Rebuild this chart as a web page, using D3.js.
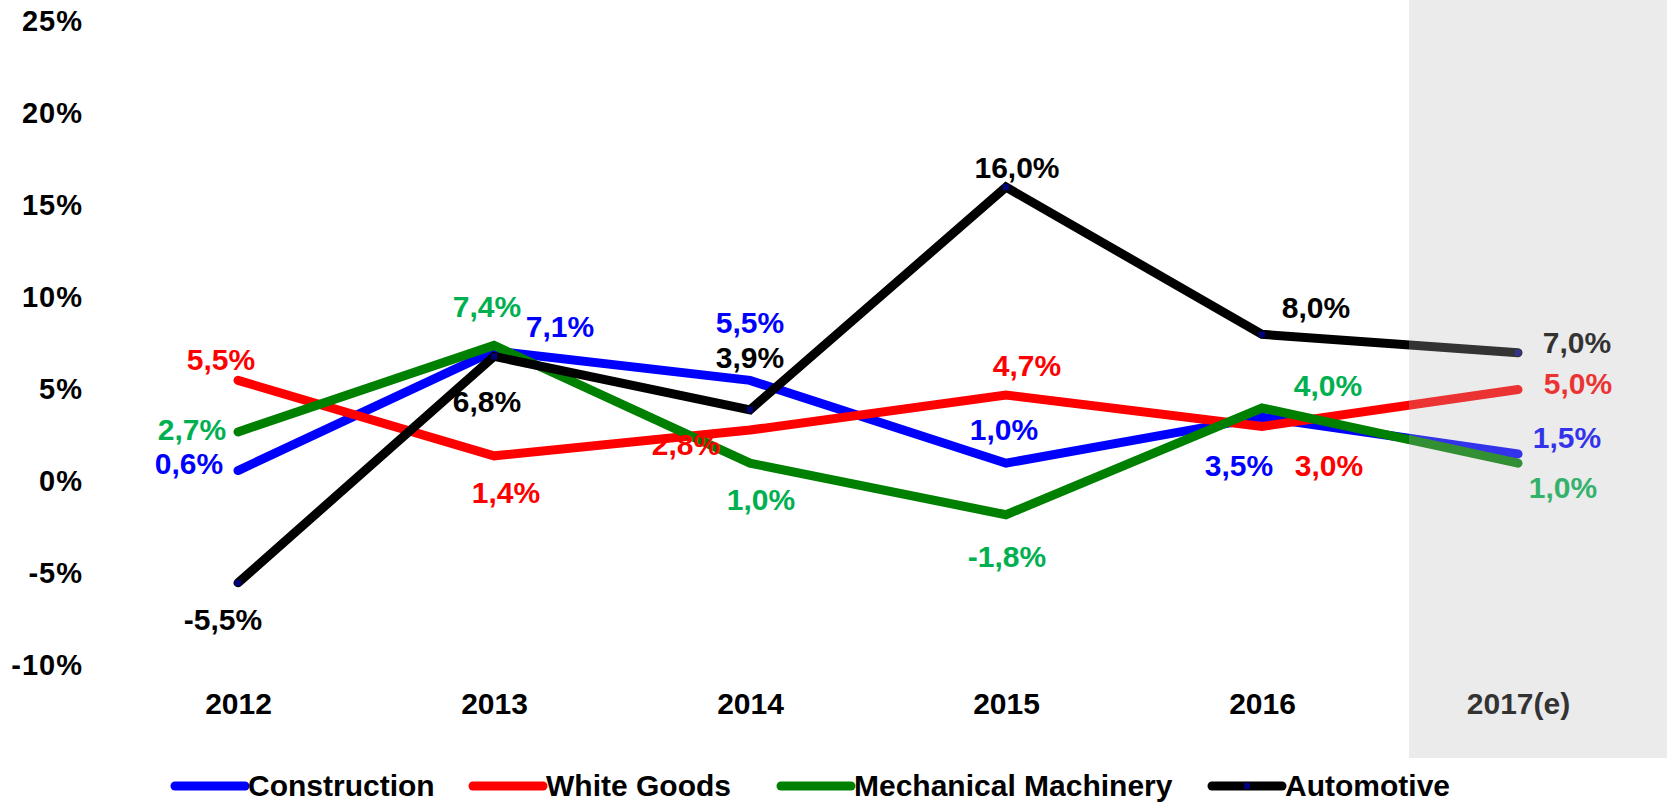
<!DOCTYPE html>
<html>
<head>
<meta charset="utf-8">
<script src="https://cdn.jsdelivr.net/npm/d3@7"></script>
<style>
  body { margin: 0; background: #fff; }
  text { font-family: "Liberation Sans", Arial, sans-serif; font-weight: bold; }
</style>
</head>
<body>
<div id="chart"></div>
<script>
// data
const years = ["2012", "2013", "2014", "2015", "2016", "2017(e)"];
const construction = [0.6, 7.1, 5.5, 1.0, 3.5, 1.5];
const whiteGoods = [5.5, 1.4, 2.8, 4.7, 3.0, 5.0];
const mechanical = [2.7, 7.4, 1.0, -1.8, 4.0, 1.0];
const automotive = [-5.5, 6.8, 3.9, 16.0, 8.0, 7.0];
const yTicks = [-10, -5, 0, 5, 10, 15, 20, 25];

// series table built from the arrays above
const series = [
    { name: "Construction", values: construction, line: "#0000ff", label: "#0000ff" },
    { name: "White Goods", values: whiteGoods, line: "#ff0000", label: "#ff0000" },
    { name: "Mechanical Machinery", values: mechanical, line: "#008000", label: "#00b050" },
    { name: "Automotive", values: automotive, line: "#000000", label: "#000000" }
];

// where each value label sits relative to its point (px)
const labelOffsets = [
    [[-49, -7], [66, -25], [0, -58], [-2, -34], [-23, 48], [49, -17]],
    [[-17, -21], [12, 36], [-64, 14], [21, -30], [67, 39], [60, -6]],
    [[-46, -3], [-7, -39], [11, 36], [1, 41], [66, -23], [45, 24]],
    [[-15, 36], [-7, 45], [0, -53], [11, -20], [54, -27], [59, -11]]
];
// legend line starts
const legendX = [175, 473, 781, 1212];

let width = 1667,
    height = 804;

let svg = d3.select("#chart")
    .append("svg")
    .attr("width", width)
    .attr("height", height);

// scales
const x = d3.scalePoint()
    .domain(years)
    .range([238, 1518]);

const y = d3.scaleLinear()
    .domain([-10, 25])
    .range([665.7, 21.4]);

// y axis labels
const yAxis = svg.append("g")
    .attr("transform", "translate(83,0)")
    .call(d3.axisLeft(y).tickValues(yTicks).tickSize(0).tickPadding(0)
        .tickFormat(d => d + "%"));
yAxis.select(".domain").remove();
yAxis.selectAll("text")
    .style("font-size", "29px")
    .style("letter-spacing", "1px")
    .attr("fill", "#000");

// x axis labels
const xAxis = svg.append("g")
    .attr("transform", "translate(0,693)")
    .call(d3.axisBottom(x).tickSize(0).tickPadding(0));
xAxis.select(".domain").remove();
xAxis.selectAll("text")
    .style("font-size", "30px")
    .attr("fill", "#000");

// lines
const line = d3.line()
    .x((d, i) => x(years[i]))
    .y(d => y(d));

svg.selectAll(".series-line")
    .data(series)
    .enter().append("path")
    .attr("class", "series-line")
    .attr("d", d => line(d.values))
    .attr("fill", "none")
    .attr("stroke", d => d.line)
    .attr("stroke-width", 9)
    .attr("stroke-linecap", "round")
    .attr("stroke-linejoin", "miter");

// little navy markers on the automotive line
svg.selectAll(".marker")
    .data(automotive)
    .enter().append("rect")
    .attr("class", "marker")
    .attr("x", (d, i) => x(years[i]) - 3)
    .attr("y", d => y(d) - 3)
    .attr("width", 6)
    .attr("height", 6)
    .attr("fill", "#000080");

// value labels
series.forEach((s, si) => {
    svg.selectAll(".label-" + si)
        .data(s.values)
        .enter().append("text")
        .attr("class", "label-" + si)
        .attr("x", (d, i) => x(years[i]) + labelOffsets[si][i][0])
        .attr("y", (d, i) => y(d) + labelOffsets[si][i][1])
        .attr("dy", "0.36em")
        .attr("text-anchor", "middle")
        .attr("fill", s.label)
        .style("font-size", "30px")
        .text(d => d.toFixed(1).replace(".", ",") + "%");
});

// estimate band: translucent grey over the last year
svg.append("rect")
    .attr("x", 1409)
    .attr("y", 0)
    .attr("width", width - 1409)
    .attr("height", 758)
    .attr("fill", "rgb(183,183,183)")
    .attr("opacity", 0.28);

// legend
const legend = svg.selectAll(".legend")
    .data(series)
    .enter().append("g")
    .attr("class", "legend")
    .attr("transform", (d, i) => "translate(" + legendX[i] + ",786)");

legend.append("line")
    .attr("x1", 0)
    .attr("x2", 70)
    .attr("stroke", d => d.line)
    .attr("stroke-width", 9)
    .attr("stroke-linecap", "round");

legend.filter(d => d.name === "Automotive")
    .append("rect")
    .attr("x", 32)
    .attr("y", -3)
    .attr("width", 6)
    .attr("height", 6)
    .attr("fill", "#000080");

legend.append("text")
    .attr("x", 73)
    .attr("y", 10)
    .attr("fill", "#000")
    .style("font-size", "30px")
    .text(d => d.name);
</script>
</body>
</html>
